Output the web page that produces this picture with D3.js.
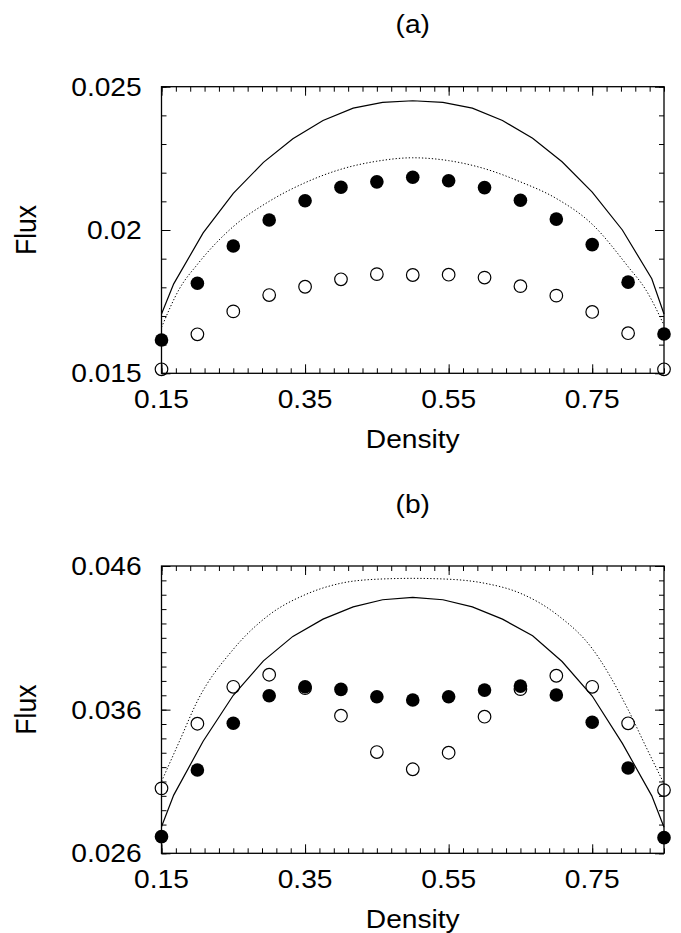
<!DOCTYPE html>
<html><head><meta charset="utf-8">
<script src="https://cdn.jsdelivr.net/npm/d3@7"></script>
<style>body{margin:0;background:#fff} svg{display:block}</style>
</head><body>
<svg id="chart" width="681" height="933"></svg>
<script>
// ---------- data ----------
const density = [0.15,0.20,0.25,0.30,0.35,0.40,0.45,0.50,0.55,0.60,0.65,0.70,0.75,0.80,0.85];
const aFilled = [0.01616,0.01814,0.01944,0.02035,0.02102,0.02149,0.02168,0.02184,0.02172,0.02148,0.02104,0.02038,0.01949,0.01818,0.01637];
const aOpen   = [0.01514,0.01636,0.01716,0.01773,0.01802,0.01828,0.01846,0.01843,0.01844,0.01834,0.01804,0.01771,0.01714,0.01640,0.01514];
const bFilled = [0.02716,0.03180,0.03505,0.03697,0.03759,0.03741,0.03690,0.03667,0.03690,0.03736,0.03764,0.03702,0.03512,0.03194,0.02709];
const bOpen   = [0.03052,0.03502,0.03759,0.03843,0.03750,0.03558,0.03305,0.03185,0.03300,0.03551,0.03743,0.03836,0.03759,0.03505,0.03040];

const solidDensity = [0.15,0.167,0.208,0.25,0.292,0.333,0.375,0.417,0.458,0.5,0.542,0.583,0.625,0.667,0.708,0.75,0.792,0.833,0.85];
const aSolid = [0.01707,0.01812,0.01990,0.02128,0.02236,0.02318,0.02382,0.02425,0.02445,0.02451,0.02445,0.02425,0.02382,0.02320,0.02238,0.02132,0.02000,0.01830,0.01707];
const bSolid = [0.02785,0.03005,0.03380,0.03700,0.03940,0.04110,0.04230,0.04315,0.04365,0.04382,0.04365,0.04315,0.04230,0.04114,0.03935,0.03695,0.03365,0.03000,0.02781];

const dottedDensity = [0.15,0.175,0.20,0.25,0.30,0.35,0.40,0.45,0.50,0.55,0.60,0.65,0.70,0.75,0.80,0.825,0.85];
const aDotted = [0.01660,0.01795,0.01880,0.02012,0.02100,0.02165,0.02212,0.02240,0.02252,0.02242,0.02214,0.02168,0.02110,0.02020,0.01872,0.01790,0.01668];
const bDotted = [0.03100,0.03380,0.03660,0.04020,0.04260,0.04400,0.04480,0.04508,0.04514,0.04508,0.04480,0.04410,0.04265,0.04025,0.03600,0.03340,0.03085];

const xMajorTicks = [0.15,0.35,0.55,0.75];
const xMinorTicks = d3.range(0,36).map(i => +(0.15 + i*0.02).toFixed(2));
const aYMajor = [0.015,0.02,0.025];
const aYMinor = d3.range(0,11).map(i => +(0.015 + i*0.001).toFixed(3));
const bYMajor = [0.026,0.036,0.046];
const bYMinor = d3.range(0,21).map(i => +(0.026 + i*0.001).toFixed(3));
const aYLabels = ["0.015","0.02","0.025"];
const bYLabels = ["0.026","0.036","0.046"];
const xLabels = ["0.15","0.35","0.55","0.75"];

// ---------- layout ----------
const svg = d3.select("#chart");
const FONT = "'Liberation Sans', Arial, Helvetica, sans-serif";
const FS = 25.6, SX = 1.1;
const left = 161.5, right = 664;
const x = d3.scaleLinear().domain([0.15,0.85]).range([left,right]);

const panels = [
  {title:"(a)", top:86.7, bottom:373.3, domain:[0.015,0.025], yMajor:aYMajor, yMinor:aYMinor, yLabels:aYLabels,
   filled:aFilled, open:aOpen, solid:aSolid, dotted:aDotted},
  {title:"(b)", top:566, bottom:853.3, domain:[0.026,0.046], yMajor:bYMajor, yMinor:bYMinor, yLabels:bYLabels,
   filled:bFilled, open:bOpen, solid:bSolid, dotted:bDotted}
];

function addText(g, str, tx, ty, anchor, extra) {
  return g.append("text")
    .attr("transform", `translate(${tx},${ty}) scale(${SX},1)` + (extra||""))
    .attr("text-anchor", anchor)
    .attr("font-family", FONT)
    .attr("font-size", FS)
    .attr("fill", "#000")
    .text(str);
}

panels.forEach(p => {
  const y = d3.scaleLinear().domain(p.domain).range([p.bottom, p.top]);
  const g = svg.append("g");
  const H = p.bottom - p.top;

  // ticks (inward on all 4 sides)
  const tickStyle = sel => { sel.select(".domain").remove(); sel.selectAll("line").attr("stroke","#000").attr("stroke-width",1); sel.selectAll("text").remove(); };
  g.append("g").attr("transform",`translate(0,${p.bottom})`).call(d3.axisBottom(x).tickValues(xMinorTicks).tickSize(-5).tickFormat("")).call(tickStyle);
  g.append("g").attr("transform",`translate(0,${p.bottom})`).call(d3.axisBottom(x).tickValues(xMajorTicks).tickSize(-9).tickFormat("")).call(tickStyle);
  g.append("g").attr("transform",`translate(0,${p.top})`).call(d3.axisTop(x).tickValues(xMinorTicks).tickSize(-5).tickFormat("")).call(tickStyle);
  g.append("g").attr("transform",`translate(0,${p.top})`).call(d3.axisTop(x).tickValues(xMajorTicks).tickSize(-9).tickFormat("")).call(tickStyle);
  g.append("g").attr("transform",`translate(${left},0)`).call(d3.axisLeft(y).tickValues(p.yMinor).tickSize(-5).tickFormat("")).call(tickStyle);
  g.append("g").attr("transform",`translate(${left},0)`).call(d3.axisLeft(y).tickValues(p.yMajor).tickSize(-9).tickFormat("")).call(tickStyle);
  g.append("g").attr("transform",`translate(${right},0)`).call(d3.axisRight(y).tickValues(p.yMinor).tickSize(-5).tickFormat("")).call(tickStyle);
  g.append("g").attr("transform",`translate(${right},0)`).call(d3.axisRight(y).tickValues(p.yMajor).tickSize(-9).tickFormat("")).call(tickStyle);

  // frame
  g.append("rect").attr("x",left).attr("y",p.top).attr("width",right-left).attr("height",H)
    .attr("fill","none").attr("stroke","#000").attr("stroke-width",1.3);

  // tick labels
  xMajorTicks.forEach((v,i) => addText(g, xLabels[i], x(v), p.bottom + 35, "middle"));
  p.yMajor.forEach((v,i) => addText(g, p.yLabels[i], 141.7, y(v) + 9.1, "end"));

  // axis titles
  addText(g, "Density", (left+right)/2, p.bottom + 74.5, "middle");
  g.append("text")
    .attr("transform", `translate(36,${(p.top+p.bottom)/2}) scale(1.08,1) rotate(-90)`)
    .attr("text-anchor","middle").attr("font-family",FONT).attr("font-size",26.5).attr("fill","#000")
    .text("Flux");
  addText(g, p.title, (left+right)/2, p.top - 53.5, "middle");

  // lines
  const solidLine = d3.line().x((d,i)=>x(solidDensity[i])).y(d=>y(d));
  g.append("path").datum(p.solid).attr("d",solidLine).attr("fill","none").attr("stroke","#000").attr("stroke-width",1.2);
  const dottedLine = d3.line().x((d,i)=>x(dottedDensity[i])).y(d=>y(d)).curve(d3.curveMonotoneX);
  g.append("path").datum(p.dotted).attr("d",dottedLine).attr("fill","none").attr("stroke","#000")
    .attr("stroke-width",1).attr("stroke-dasharray","1.3,2");

  // markers
  g.selectAll("circle.open").data(p.open).enter().append("circle").attr("class","open")
    .attr("cx",(d,i)=>x(density[i])).attr("cy",d=>y(d)).attr("r",6.3)
    .attr("fill","none").attr("stroke","#000").attr("stroke-width",1.2);
  g.selectAll("circle.filled").data(p.filled).enter().append("circle").attr("class","filled")
    .attr("cx",(d,i)=>x(density[i])).attr("cy",d=>y(d)).attr("r",6.8)
    .attr("fill","#000");
});
</script>
</body></html>
